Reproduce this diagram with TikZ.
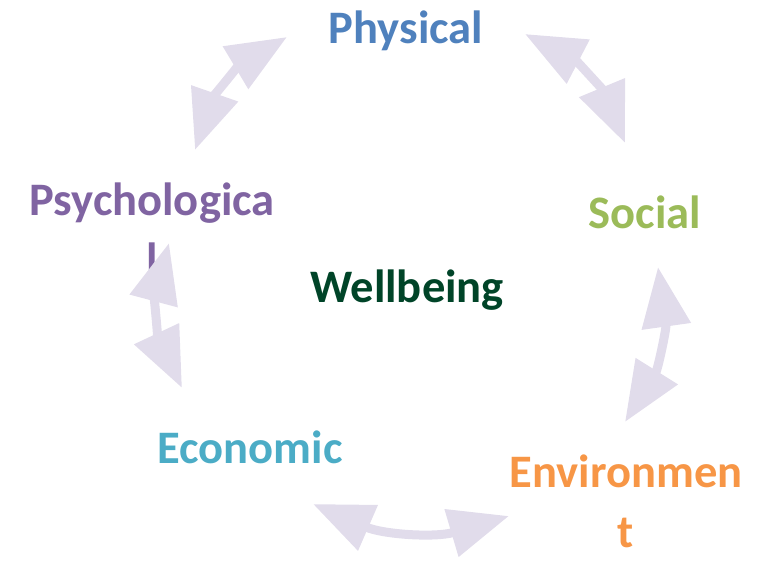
\documentclass[tikz,border=0pt]{standalone}
\usepackage{fontspec}
\setmainfont{Carlito}
\usetikzlibrary{arrows.meta}
\definecolor{physblue}{HTML}{4F81BD}
\definecolor{socgreen}{HTML}{9BBB59}
\definecolor{envorange}{HTML}{F79646}
\definecolor{ecoteal}{HTML}{4BACC6}
\definecolor{psypurple}{HTML}{8064A2}
\definecolor{wellgreen}{RGB}{0,68,40}
\definecolor{cyclelilac}{RGB}{225,220,235}
\begin{document}
\begin{tikzpicture}[
    x=0.02cm, y=-0.02cm,
    % Label styles
    label/.style={font=\bfseries\fontsize{26.5}{34}\selectfont, anchor=base, inner sep=0pt, align=center},
    % Cycle arrows
    cycle-arrow/.style={line width=0.18cm, cyclelilac, {Triangle[length=1.2cm, width=0.95cm]}-{Triangle[length=1.2cm, width=0.95cm]}},
]
\useasboundingbox (0,0) rectangle (769,562);

% === LABELS ===
\node[label, physblue] (physical) at (406, 43) {Physical};
\node[label, socgreen] (social) at (645, 228) {Social};
\node[label, envorange] (environment) at (626, 547) {Environmen\\t};
\node[label, ecoteal] (economic) at (250, 463) {Economic};
\node[label, psypurple] (psychological) at (152, 275) {Psychologica\\l};
\node[label, wellgreen] (wellbeing) at (407, 302) {Wellbeing};

% === ARROW ENDS ===
\coordinate (psy-phys-a) at (195, 150);
\coordinate (psy-phys-b) at (287, 37);
\coordinate (phys-soc-a) at (525, 34);
\coordinate (phys-soc-b) at (625, 143);
\coordinate (soc-env-a) at (658, 267);
\coordinate (soc-env-b) at (625, 422);
\coordinate (env-eco-a) at (509, 516);
\coordinate (env-eco-b) at (313, 504);
\coordinate (eco-psy-a) at (182, 388);
\coordinate (eco-psy-b) at (169, 243);

% === CYCLE ARROWS ===
\draw[cycle-arrow] (psy-phys-a) to[bend left=20] (psy-phys-b);
\draw[cycle-arrow] (phys-soc-a) to[bend left=20] (phys-soc-b);
\draw[cycle-arrow] (soc-env-a) to[bend left=20] (soc-env-b);
\draw[cycle-arrow] (env-eco-a) to[bend left=20] (env-eco-b);
\draw[cycle-arrow] (eco-psy-a) to[bend left=20] (eco-psy-b);

\end{tikzpicture}
\end{document}
